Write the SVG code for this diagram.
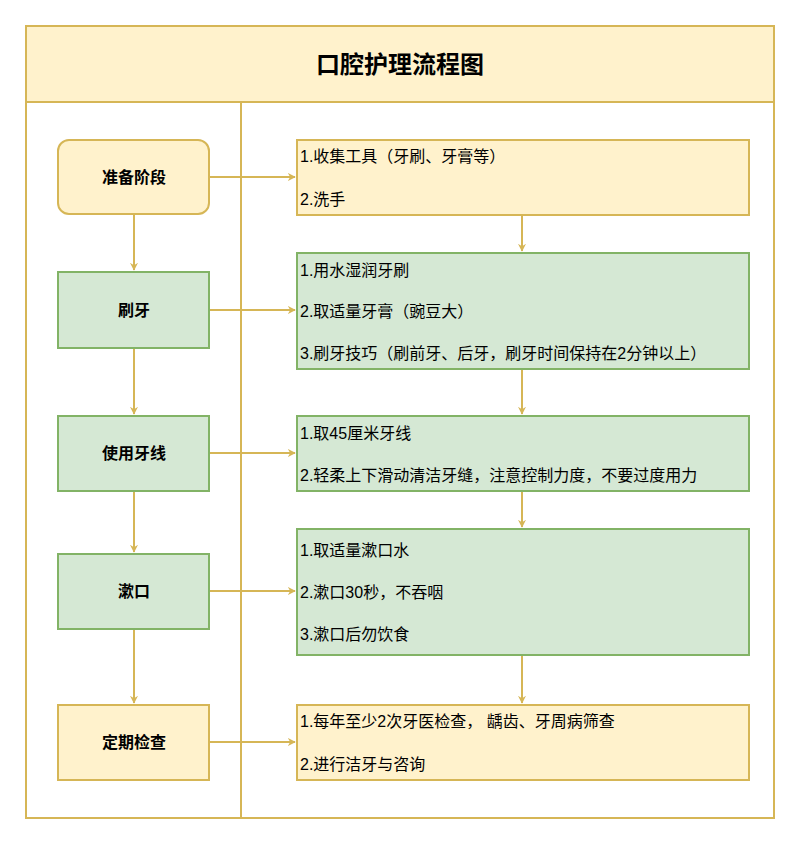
<svg xmlns="http://www.w3.org/2000/svg" width="800" height="844" viewBox="0 0 800 844">
<style>
.y{fill:#fff2cc;stroke:#d6b656;stroke-width:2}
.g{fill:#d5e8d4;stroke:#82b366;stroke-width:2}
.t{font-family:"Liberation Sans","Noto Sans CJK SC",sans-serif;font-size:16px;fill:#000}
.b{font-weight:bold;text-anchor:middle;dominant-baseline:central}
.c{stroke:#d6b656;stroke-width:2;fill:none;marker-end:url(#a)}
</style>
<defs><marker id="a" viewBox="0 0 10 10" refX="9" refY="5" markerWidth="8" markerHeight="8" markerUnits="userSpaceOnUse" orient="auto"><path d="M0,0 L10,5 L0,10 L3,5 Z" fill="#d6b656" transform="scale(1)"/></marker></defs>
<g id="frame">
<rect x="26" y="26" width="748" height="792" fill="#fff" stroke="#d6b656" stroke-width="2"/>
<rect x="26" y="26" width="748" height="76" class="y"/>
<text x="400" y="64" class="t b" style="font-size:24px">口腔护理流程图</text>
<line x1="241" y1="102" x2="241" y2="818" stroke="#d6b656" stroke-width="2"/>
</g>
<g id="connectors">
<path class="c" d="M209,177 H295"/>
<path class="c" d="M209,310 H295"/>
<path class="c" d="M209,453 H295"/>
<path class="c" d="M209,591 H295"/>
<path class="c" d="M209,742 H295"/>
<path class="c" d="M134,214 V270"/>
<path class="c" d="M134,348 V414"/>
<path class="c" d="M134,491 V552"/>
<path class="c" d="M134,629 V703"/>
<path class="c" d="M522,215 V251"/>
<path class="c" d="M522,369 V414"/>
<path class="c" d="M522,491 V527"/>
<path class="c" d="M522,655 V703"/>
</g>
<g id="n1"><rect x="58" y="140" width="151" height="74" rx="11" class="y"/><text x="134" y="177" class="t b">准备阶段</text></g>
<g id="n2"><rect x="58" y="272" width="151" height="76" class="g"/><text x="134" y="310" class="t b">刷牙</text></g>
<g id="n3"><rect x="58" y="416" width="151" height="75" class="g"/><text x="134" y="453" class="t b">使用牙线</text></g>
<g id="n4"><rect x="58" y="554" width="151" height="75" class="g"/><text x="134" y="591" class="t b">漱口</text></g>
<g id="n5"><rect x="58" y="705" width="151" height="75" class="y"/><text x="134" y="742" class="t b">定期检查</text></g>
<g id="r1"><rect x="297" y="140" width="452" height="75" class="y"/>
<text x="300" y="162" class="t">1.收集工具（牙刷、牙膏等）</text><text x="300" y="205" class="t">2.洗手</text></g>
<g id="r2"><rect x="297" y="253" width="452" height="116" class="g"/>
<text x="300" y="276" class="t">1.用水湿润牙刷</text><text x="300" y="317" class="t">2.取适量牙膏（豌豆大）</text><text x="300" y="359" class="t">3.刷牙技巧（刷前牙、后牙，刷牙时间保持在2分钟以上）</text></g>
<g id="r3"><rect x="297" y="416" width="452" height="75" class="g"/>
<text x="300" y="439" class="t">1.取45厘米牙线</text><text x="300" y="481" class="t">2.轻柔上下滑动清洁牙缝，注意控制力度，不要过度用力</text></g>
<g id="r4"><rect x="297" y="529" width="452" height="126" class="g"/>
<text x="300" y="556" class="t">1.取适量漱口水</text><text x="300" y="598" class="t">2.漱口30秒，不吞咽</text><text x="300" y="640" class="t">3.漱口后勿饮食</text></g>
<g id="r5"><rect x="297" y="705" width="452" height="75" class="y"/>
<text x="300" y="727" class="t">1.每年至少2次牙医检查， 龋齿、牙周病筛查</text><text x="300" y="770" class="t">2.进行洁牙与咨询</text></g>
</svg>
